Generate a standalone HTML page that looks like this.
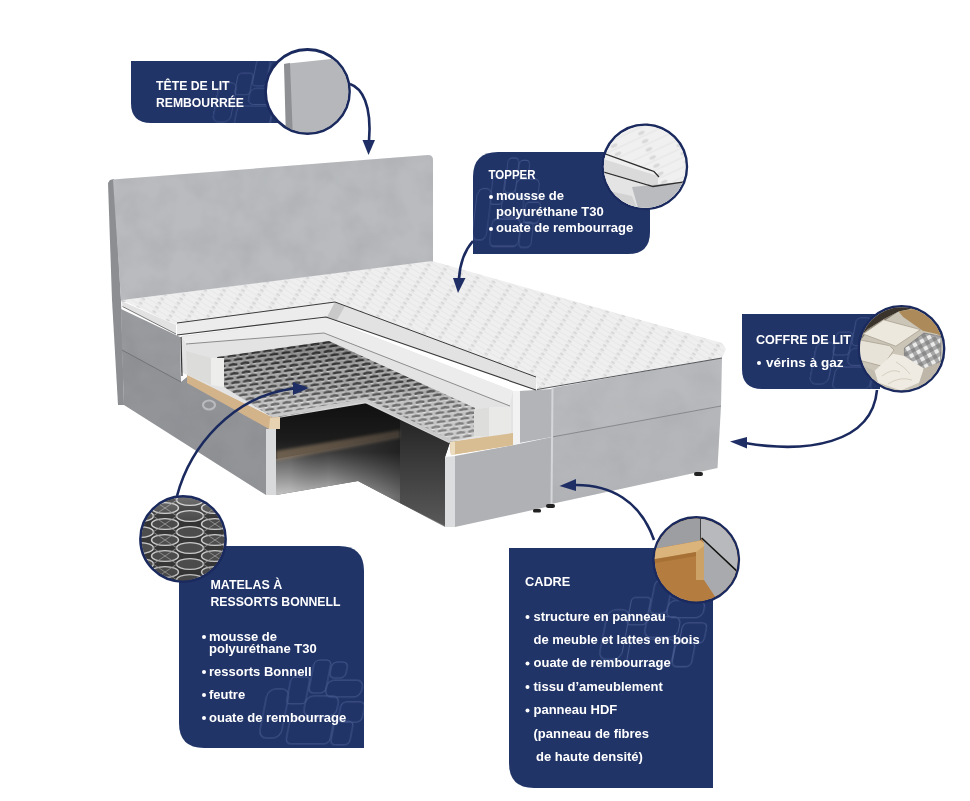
<!DOCTYPE html>
<html><head><meta charset="utf-8">
<style>
html,body{margin:0;padding:0;background:#fff;width:970px;height:801px;overflow:hidden}
svg{display:block}
text{font-family:"Liberation Sans",sans-serif;font-weight:bold;fill:#fff}
</style></head>
<body>
<svg width="970" height="801" viewBox="0 0 970 801">
<defs>
  <!-- interior -->
  <linearGradient id="gWoodBoard" x1="0" y1="0" x2="1" y2="0">
    <stop offset="0" stop-color="#9a8266"/>
    <stop offset="0.6" stop-color="#7d6a55"/>
    <stop offset="1" stop-color="#5e5246"/>
  </linearGradient>
  <linearGradient id="gIntBase" gradientUnits="userSpaceOnUse" x1="0" y1="402" x2="0" y2="527">
    <stop offset="0" stop-color="#101010"/>
    <stop offset="0.3" stop-color="#1c1c1c"/>
    <stop offset="0.45" stop-color="#303030"/>
    <stop offset="0.75" stop-color="#6a6a6a"/>
    <stop offset="1" stop-color="#8a8a8a"/>
  </linearGradient>
  <linearGradient id="gFloor" gradientUnits="userSpaceOnUse" x1="0" y1="452" x2="0" y2="496">
    <stop offset="0" stop-color="#3c3c3c"/>
    <stop offset="0.5" stop-color="#7a7a7a"/>
    <stop offset="1" stop-color="#bdbdbd"/>
  </linearGradient>
  <linearGradient id="gFloorShade" gradientUnits="userSpaceOnUse" x1="290" y1="0" x2="400" y2="0">
    <stop offset="0" stop-color="#fff" stop-opacity="0.12"/>
    <stop offset="0.35" stop-color="#000" stop-opacity="0"/>
    <stop offset="1" stop-color="#000" stop-opacity="0.45"/>
  </linearGradient>
  <linearGradient id="gRightWall" gradientUnits="userSpaceOnUse" x1="0" y1="405" x2="0" y2="527">
    <stop offset="0" stop-color="#1e1e1e"/>
    <stop offset="0.4" stop-color="#363636"/>
    <stop offset="0.8" stop-color="#4e4e4e"/>
    <stop offset="1" stop-color="#5a5a5a"/>
  </linearGradient>
  <filter id="fBlur" x="-10%" y="-80%" width="120%" height="260%"><feGaussianBlur stdDeviation="1.5"/></filter>
  <!-- springs -->
  <pattern id="pSprings" x="0" y="0" width="12" height="9" patternUnits="userSpaceOnUse" patternTransform="rotate(-8)">
    <rect width="12" height="9" fill="#aaaaaa"/>
    <ellipse cx="6" cy="2.25" rx="4.6" ry="1.7" fill="#3c3c3c"/>
    <ellipse cx="0" cy="6.75" rx="4.6" ry="1.7" fill="#3c3c3c"/>
    <ellipse cx="12" cy="6.75" rx="4.6" ry="1.7" fill="#3c3c3c"/>
    <path d="M1.5,4.2 Q6,3 10.5,4.2 M-4.5,8.7 Q0,7.5 4.5,8.7 M7.5,8.7 Q12,7.5 16.5,8.7" fill="none" stroke="#e6e6e6" stroke-width="0.9"/>
  </pattern>
  <linearGradient id="gSpringShade" gradientUnits="userSpaceOnUse" x1="0" y1="340" x2="0" y2="440">
    <stop offset="0" stop-color="#000" stop-opacity="0.3"/>
    <stop offset="0.3" stop-color="#000" stop-opacity="0.05"/>
    <stop offset="0.6" stop-color="#fff" stop-opacity="0.22"/>
    <stop offset="1" stop-color="#fff" stop-opacity="0.42"/>
  </linearGradient>
  <!-- topper -->
  <pattern id="pTopper" x="0" y="0" width="16" height="5" patternUnits="userSpaceOnUse" patternTransform="rotate(32)">
    <rect width="16" height="5" fill="#efefef"/>
    <rect y="4" width="16" height="1" fill="#e7e7e7"/>
    <ellipse cx="8" cy="2.5" rx="2.2" ry="1.1" fill="#d3d3d3"/>
  </pattern>
  <pattern id="pTopper2" x="0" y="0" width="30" height="9" patternUnits="userSpaceOnUse" patternTransform="rotate(-25)">
    <rect width="30" height="9" fill="#f0f0f0"/>
    <rect y="7.5" width="30" height="1.5" fill="#e8e8e8"/>
    <ellipse cx="15" cy="4.5" rx="3.5" ry="1.8" fill="#d9d9d9"/>
  </pattern>
  <pattern id="pCheck" x="0" y="0" width="8" height="8" patternUnits="userSpaceOnUse" patternTransform="rotate(-28)">
    <rect width="8" height="8" fill="#ebebea"/>
    <rect width="4" height="8" fill="#707070" opacity="0.55"/>
    <rect width="8" height="4" fill="#707070" opacity="0.55"/>
  </pattern>
  <pattern id="pBonnell" x="140" y="500" width="50" height="16" patternUnits="userSpaceOnUse">
    <rect width="50" height="16" fill="#333333"/>
    <g fill="#4a4a4a" stroke="#cdcdcd" stroke-width="1.4">
      <ellipse cx="0" cy="0" rx="13.5" ry="5.4"/>
      <ellipse cx="50" cy="0" rx="13.5" ry="5.4"/>
      <ellipse cx="0" cy="16" rx="13.5" ry="5.4"/>
      <ellipse cx="50" cy="16" rx="13.5" ry="5.4"/>
      <ellipse cx="25" cy="8" rx="13.5" ry="5.4"/>
    </g>
    <path d="M13,0 L25,8 L13,16 M37,0 L25,8 L37,16" fill="none" stroke="#9a9a9a" stroke-width="0.8"/>
  </pattern>
  <linearGradient id="gBonShade" x1="0" y1="0" x2="0" y2="1">
    <stop offset="0" stop-color="#fff" stop-opacity="0.25"/>
    <stop offset="0.3" stop-color="#fff" stop-opacity="0"/>
    <stop offset="1" stop-color="#000" stop-opacity="0.1"/>
  </linearGradient>
  <clipPath id="cTH"><circle cx="307.5" cy="91.5" r="41"/></clipPath>
  <clipPath id="cTO"><circle cx="644.8" cy="166.8" r="41"/></clipPath>
  <clipPath id="cCO"><circle cx="901.5" cy="348.8" r="41.5"/></clipPath>
  <clipPath id="cMA"><circle cx="183" cy="539" r="41.5"/></clipPath>
  <clipPath id="cCA"><circle cx="696.2" cy="560" r="41.5"/></clipPath>
  <g id="logo" fill="none" stroke="#7d8fc4" stroke-width="1" transform="skewX(-11)">
    <rect x="53" y="2" width="17" height="33" rx="5"/>
    <rect x="71" y="4" width="16" height="16" rx="5"/>
    <rect x="70" y="22" width="36" height="17" rx="7"/>
    <rect x="33" y="19" width="19" height="27" rx="4"/>
    <rect x="52" y="38" width="33" height="20" rx="7"/>
    <rect x="12" y="31" width="22" height="49" rx="8"/>
    <rect x="40" y="60" width="44" height="26" rx="6"/>
    <rect x="88" y="44" width="24" height="20" rx="5"/>
    <rect x="85" y="63" width="19" height="24" rx="5"/>
  </g>
  <clipPath id="bxTH"><path d="M131,61 L300,61 L300,123 L151,123 Q131,123 131,103 Z"/></clipPath>
  <clipPath id="bxTO"><path d="M473,177 Q473,152 498,152 L650,152 L650,232 Q650,254 628,254 L473,254 Z"/></clipPath>
  <clipPath id="bxCO"><path d="M742,314 L880,314 L880,389 L762,389 Q742,389 742,369 Z"/></clipPath>
  <clipPath id="bxMA"><path d="M179,546 L339,546 Q364,546 364,571 L364,748 L204,748 Q179,748 179,723 Z"/></clipPath>
  <clipPath id="bxCA"><path d="M509,548 L713,548 L713,788 L534,788 Q509,788 509,763 Z"/></clipPath>
  <filter id="fVelvet" x="0" y="0" width="100%" height="100%">
    <feTurbulence type="fractalNoise" baseFrequency="0.035" numOctaves="3" seed="7" result="n"/>
    <feColorMatrix type="matrix" values="0 0 0 0 0  0 0 0 0 0  0 0 0 0 0  0 0 0 -1.6 1.05" in="n" result="a"/>
    <feComposite in="SourceGraphic" in2="a" operator="in"/>
  </filter>
</defs>

<!-- ================= BED ================= -->
<g id="bed">
  <!-- headboard side strip -->
  <polygon points="110,180 114,179 121,300 124,405 118,405 112,300 108,183" fill="#8c8e92"/>
  <!-- headboard face -->
  <path d="M113,179.5 L428,155 Q433,155 433,160 L433,262 L122,302 L121,300 Z" fill="#b9bbbe"/>
  <path d="M113,179.5 L428,155 Q433,155 433,160 L433,262 L122,302 L121,300 Z" fill="#9b9da1" filter="url(#fVelvet)" opacity="0.35"/>

  <!-- base left: upper drawer -->
  <polygon points="121,309 180,337 181,382 122,350" fill="#999b9f"/>
  <!-- base left: lower drawer -->
  <polygon points="122,350 181,382 187,377 272,418 269,429 266,495 124,405" fill="#929498"/>
  <polygon points="121,309 180,337 187,377 272,418 269,429 266,495 124,405" fill="#7a7c80" filter="url(#fVelvet)" opacity="0.25"/>
  <line x1="122" y1="350" x2="181" y2="382" stroke="#6e7074" stroke-width="1"/>
  <!-- handle -->
  <ellipse cx="209" cy="405" rx="6" ry="4.5" fill="none" stroke="#b8babd" stroke-width="2.2"/>

  <!-- interior -->
  <polygon points="276,417 366,402 450,442 445,457 445,527 358,481 276,495" fill="url(#gIntBase)"/>
  <polygon points="276,459 400,436 400,503 358,481 276,495" fill="url(#gFloor)"/>
  <polygon points="276,459 400,436 400,503 358,481 276,495" fill="url(#gFloorShade)"/>
  <polygon points="366,402 450,442 445,457 445,526 400,503 400,418" fill="url(#gRightWall)"/>
  <polygon points="276,451 400,430 400,438 276,461" fill="url(#gWoodBoard)" filter="url(#fBlur)" opacity="0.6"/>
  <polyline points="276,417 366,402 450,442" fill="none" stroke="#d4d4d4" stroke-width="2.5"/>
  <!-- white edge left panel -->
  <polygon points="266,429 276,429 276,495 266,495" fill="#d9dadc"/>
  <!-- wood left -->
  <polygon points="187,374 272,417 280,417 280,429 269,429 187,383" fill="#d3b38a"/>
  <polygon points="270,418 280,417 280,429 269,429" fill="#e6d2b0"/>

  <!-- right cut panel (foot section) -->
  <polygon points="455,456 514,445 552,437 551,506 455,527" fill="#afb1b5"/>
  <polygon points="445,457 455,456 455,527 445,527" fill="#dcdddf"/>
  <!-- wood right -->
  <polygon points="450,442 513,433 513,445 451,455" fill="#d8bc92"/>
  <polygon points="450,442 455,442 455,455 451,455" fill="#ecdcc0"/>

  <!-- base right section -->
  <polygon points="552,388 722,358 721,406 552,437" fill="#b8babd"/>
  <polygon points="552,437 721,406 717.5,468 551,504" fill="#b4b6b9"/>
  <polygon points="552,388 722,358 717.5,468 551,504" fill="#9a9ca0" filter="url(#fVelvet)" opacity="0.25"/>
  <line x1="552" y1="437" x2="721" y2="406" stroke="#85878a" stroke-width="1"/>
  <polygon points="519,391 552,389 552,437 519,443" fill="#b2b4b7"/>
  <line x1="552.5" y1="388" x2="551.5" y2="504" stroke="#d5d6d9" stroke-width="2"/>
  <!-- feet -->
  <rect x="546" y="504" width="9" height="4" rx="2" fill="#222"/>
  <rect x="694" y="472" width="9" height="4" rx="2" fill="#222"/>
  <rect x="533" y="509" width="8" height="3.5" rx="1.5" fill="#222"/>

  <!-- mattress cross-section foam -->
  <polygon points="181,336 326,318 513,391 520,391 520,443 513,433 450,442 366,401 279,417 272,417 187,375 181,372" fill="#e3e3e3"/>
  <polygon points="182,337 326,318 513,391 510,406 324,333 186,344" fill="#ececec"/>
  <polyline points="186,344 324,333 510,406" fill="none" stroke="#8c8c8c" stroke-width="1"/>
  <!-- springs -->
  <polygon points="217,357 329,341 475,408 474,436 450,442 366,401 279,417 272,417 224,387" fill="url(#pSprings)"/>
  <polygon points="217,357 329,341 475,408 474,436 450,442 366,401 279,417 272,417 224,387" fill="url(#gSpringShade)"/>
  <polyline points="272,416 366,400 450,441" fill="none" stroke="#c9c9c9" stroke-width="3"/>
  <!-- foam blocks -->
  <polygon points="186,351 211,358 211,385 187.5,375" fill="#dcdcda"/>
  <polygon points="211,358 224,358 224,387 211,385" fill="#ededeb"/>
  <polygon points="474,410 489,407 511,407 511,436 478,437 474,436" fill="#e9e9e7"/>
  <polygon points="474,410 489,407 489,437 474,436" fill="#dddddb"/>
  <polygon points="513,391 520,391 520,443 513,445" fill="#f2f2f2"/>
  <polygon points="450,442 513,433 513,445 451,455" fill="#d8bc92"/>
  <polygon points="450,442 455,442 455,455 451,455" fill="#ecdcc0"/>
  <line x1="181" y1="337" x2="182" y2="376" stroke="#333" stroke-width="1.2"/>

  <!-- topper top surface (L shape) -->
  <polygon points="122,300 432,261 722,343 726,349 722,358 537,389 536,378 335,302 176,325" fill="url(#pTopper)"/>
  <!-- topper left side face -->
  <polygon points="121.5,301 176,325 176,334 122.5,306" fill="#e2e2e2"/>
  <line x1="122.5" y1="306.5" x2="176" y2="334" stroke="#555" stroke-width="0.8"/>
  <!-- topper cut face band -->
  <polygon points="177,323 335,302 327,317 177,335" fill="#ececec"/>
  <polygon points="335,302 536,377 536,390 327,317" fill="#e2e2e2"/>
  <polygon points="335,302 345,306 337,320 327,317" fill="#c9c9c9"/>
  <polyline points="177,323 335,302 536,377" fill="none" stroke="#3a3a3a" stroke-width="1"/>
  <polyline points="177,335 326,317 536,390" fill="none" stroke="#3a3a3a" stroke-width="1.2"/>
  <!-- topper front edge -->
  <line x1="537" y1="389.5" x2="722" y2="358" stroke="#55575a" stroke-width="1.2"/>
</g>

<!-- ================= CALLOUT BOXES ================= -->
<g id="boxes" fill="#213468">
  <!-- Tete de lit -->
  <path d="M131,61 L300,61 L300,123 L151,123 Q131,123 131,103 Z"/>
  <!-- Topper -->
  <path d="M473,177 Q473,152 498,152 L650,152 L650,232 Q650,254 628,254 L473,254 Z"/>
  <!-- Coffre -->
  <path d="M742,314 L880,314 L880,389 L762,389 Q742,389 742,369 Z"/>
  <!-- Matelas -->
  <path d="M179,546 L339,546 Q364,546 364,571 L364,748 L204,748 Q179,748 179,723 Z"/>
  <!-- Cadre -->
  <path d="M509,548 L713,548 L713,788 L534,788 Q509,788 509,763 Z"/>
</g>


<!-- faint box patterns -->
<g opacity="0.4">
  <g clip-path="url(#bxMA)"><use href="#logo" transform="translate(262,658)"/></g>
  <g clip-path="url(#bxCA)"><use href="#logo" transform="translate(602,578) scale(1.02)"/></g>
  <g clip-path="url(#bxTO)"><use href="#logo" transform="translate(474,156) scale(0.65,1.05)"/></g>
  <g clip-path="url(#bxCO)"><use href="#logo" transform="translate(812,316) scale(0.85)"/></g>
  <g clip-path="url(#bxTH)"><use href="#logo" transform="translate(215,58) scale(0.8)"/></g>
</g>
<!-- circles -->
<g stroke="#1b2a5e" stroke-width="2.8" fill="#fff">
  <circle cx="307.5" cy="91.5" r="42"/>
  <circle cx="644.8" cy="166.8" r="42"/>
  <circle cx="901.5" cy="348.8" r="42.5"/>
  <circle cx="183" cy="539" r="42.5"/>
  <circle cx="696.2" cy="560" r="42.5"/>
</g>
<!-- circle contents -->
<g clip-path="url(#cTH)">
  <polygon points="284,64 331,59 360,56 360,140 291,140" fill="#b5b7ba"/>
  <polygon points="284,64 290,63 293,140 286,140" fill="#8e9094"/>
</g>
<g clip-path="url(#cTO)">
  <rect x="600" y="120" width="90" height="95" fill="url(#pTopper2)"/>
  <polygon points="600,153 654,172 658,176 658,186 653,186 600,171" fill="#dadada"/>
  <polygon points="600,153 654,172 658,176 600,158" fill="#efefef"/>
  <polyline points="600,152 654,171.5 659,177" fill="none" stroke="#2e2e2e" stroke-width="1.3"/>
  <polygon points="600,172 653,187 690,181 690,215 600,215" fill="#e4e4e4"/>
  <polygon points="632,187 690,181 690,215 640,215" fill="#b9bbbe"/>
  <polygon points="605,190 632,196 640,215 612,215" fill="#d2d2d2"/>
  <polyline points="600,171 653,186.5 690,181" fill="none" stroke="#2e2e2e" stroke-width="1.3"/>
</g>
<g clip-path="url(#cCO)">
  <rect x="855" y="300" width="95" height="100" fill="#cbc5b8"/>
  <polygon points="855,300 950,300 950,309 920,307 898.6,311.5 885,318.5 868,329 855,341" fill="#3a342d"/>
  <polygon points="855,341 868,329 885,318.5 898.6,311.5 884,321 866,333 858,344" fill="#7d7568"/>
  <polygon points="898.6,311.5 920,308 950,311 950,342 937.7,334.2 922.8,330.7 903.2,316.9" fill="#ad8a5a"/>
  <polygon points="863,334 883.7,319.8 920.5,329.6 895.8,346.2" fill="#ece8de" stroke="#a9a190" stroke-width="0.8"/>
  <polygon points="859.6,339.9 889.5,345.6 894,350 882.6,366.3 860.7,360.6 855,352" fill="#e8e3d8" stroke="#a9a190" stroke-width="0.8"/>
  <polygon points="904.4,348 923.9,333 941,336.5 940.6,361.7 926.2,370.9 904.4,357.1" fill="url(#pCheck)" stroke="#6b6b6b" stroke-width="0.6"/>
  <polygon points="874.5,370.9 892.9,353.7 904.4,356 923.9,368.6 919.3,382.4 901,390.4 878,382.4" fill="#efebe3"/>
  <path d="M882,376 Q892,368 900,372 M888,384 Q900,376 912,380 M896,362 Q904,366 910,374" fill="none" stroke="#cfc8b8" stroke-width="0.8"/>
  <polygon points="855,362 874.5,370.9 878,382.4 870,400 855,400" fill="#c2bcaf"/>
  <polygon points="919.3,382.4 923.9,368.6 940.6,361.7 950,370 950,400 915,400" fill="#bdb6a9"/>
</g>
<g clip-path="url(#cMA)">
  <rect x="136" y="492" width="95" height="95" fill="url(#pBonnell)"/>
  <rect x="136" y="492" width="95" height="95" fill="url(#gBonShade)"/>
</g>
<g clip-path="url(#cCA)">
  <rect x="650" y="512" width="95" height="95" fill="#b47c3e"/>
  <polygon points="650,512 700.5,512 700.5,540.6 650,549.8" fill="#9c9ea2"/>
  <polygon points="700.5,512 745,512 745,578 700.5,537" fill="#b7b9bc"/>
  <polygon points="700.5,537 745,578 745,607 722,607 704,580 704,543" fill="#a8aaad"/>
  <polygon points="650,549.8 700.5,540.6 704,543 704,580 696,580 696,552 650,560" fill="#dbb47b"/>
  <polygon points="696,552 704,546 704,580 696,580" fill="#cda266"/>
  <polygon points="650,560 696,552 696,556 650,564" fill="#9e6a32" opacity="0.6"/>
  <line x1="700.5" y1="512" x2="700.5" y2="540" stroke="#444" stroke-width="1"/>
  <line x1="701.7" y1="538" x2="740" y2="574" stroke="#111" stroke-width="1.5"/>
</g>
<!-- arrows -->
<g stroke="#1b2a5e" stroke-width="2.6" fill="none">
  <path d="M350,84 C362,88 372,105 369,141"/>
  <path d="M473,241 C465,250 460,262 459,279"/>
  <path d="M877,390 C872,445 805,453 745,443"/>
  <path d="M177,496 C190,447 232,396 294,388.5"/>
  <path d="M654,540 C640,500 610,485 576,485"/>
</g>
<g fill="#1f2f66">
  <polygon points="362.5,140 375,140 368.5,155"/>
  <polygon points="453,278 465.5,278 458,293"/>
  <polygon points="730,441.5 747,437 747,448.5"/>
  <polygon points="293,382 293,395 309,388"/>
  <polygon points="559.5,486 576,479 576,491"/>
</g>

<!-- ================= TEXT ================= -->
<g font-size="12.3">
  <text x="156" y="90" textLength="73.6" lengthAdjust="spacingAndGlyphs">TÊTE DE LIT</text>
  <text x="156" y="106.5" textLength="88" lengthAdjust="spacingAndGlyphs">REMBOURRÉE</text>
  <text x="488.5" y="179" textLength="47" lengthAdjust="spacingAndGlyphs">TOPPER</text>
  <text x="756" y="343.8" textLength="95" lengthAdjust="spacingAndGlyphs">COFFRE DE LIT</text>
  <text x="210.5" y="589" textLength="71.7" lengthAdjust="spacingAndGlyphs">MATELAS À</text>
  <text x="210.5" y="606" textLength="130" lengthAdjust="spacingAndGlyphs">RESSORTS BONNELL</text>
  <text x="525" y="586" textLength="45.3" lengthAdjust="spacingAndGlyphs">CADRE</text>
</g>
<g font-size="13">
  <text x="496" y="199.8">mousse de</text>
  <text x="496" y="215.8">polyuréthane T30</text>
  <text x="496" y="231.8">ouate de rembourrage</text>
  <text x="766" y="366.5" textLength="77.5" lengthAdjust="spacingAndGlyphs">vérins à gaz</text>
  <text x="209" y="640.5">mousse de</text>
  <text x="209" y="652.5">polyuréthane T30</text>
  <text x="209" y="675.5">ressorts Bonnell</text>
  <text x="209" y="698.7">feutre</text>
  <text x="209" y="721.8">ouate de rembourrage</text>
  <text x="533.5" y="620.7">structure en panneau</text>
  <text x="533.5" y="644">de meuble et lattes en bois</text>
  <text x="533.5" y="667">ouate de rembourrage</text>
  <text x="533.5" y="690.5">tissu d’ameublement</text>
  <text x="533.5" y="714">panneau HDF</text>
  <text x="533.5" y="737.5">(panneau de fibres</text>
  <text x="536" y="761">de haute densité)</text>
</g>
<g fill="#fff">
  <circle cx="491" cy="197" r="2"/>
  <circle cx="491" cy="229" r="2"/>
  <circle cx="759" cy="363" r="2"/>
  <circle cx="204" cy="637" r="2"/>
  <circle cx="204" cy="672" r="2"/>
  <circle cx="204" cy="695" r="2"/>
  <circle cx="204" cy="718" r="2"/>
  <circle cx="527.5" cy="617" r="2"/>
  <circle cx="527.5" cy="663.5" r="2"/>
  <circle cx="527.5" cy="687" r="2"/>
  <circle cx="527.5" cy="710.5" r="2"/>
</g>
</svg>
</body></html>
